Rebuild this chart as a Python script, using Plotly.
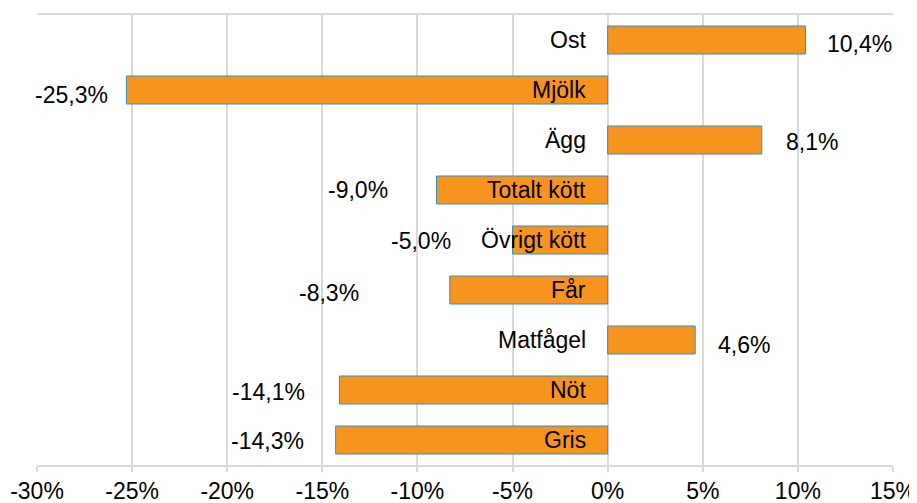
import plotly.graph_objects as go

categories = ["Ost", "Mjölk", "Ägg", "Totalt kött", "Övrigt kött", "Får", "Matfågel", "Nöt", "Gris"]
values = [10.4, -25.3, 8.1, -9.0, -5.0, -8.3, 4.6, -14.1, -14.3]
value_labels = ["10,4%", "-25,3%", "8,1%", "-9,0%", "-5,0%", "-8,3%", "4,6%", "-14,1%", "-14,3%"]
tick_vals = [-30, -25, -20, -15, -10, -5, 0, 5, 10, 15]
tick_text = ["-30%", "-25%", "-20%", "-15%", "-10%", "-5%", "0%", "5%", "10%", "15%"]

# label offsets (pixels) from bar end, as placed in the original
label_xshift = [19, -16, 22, -46, -60, -89, 21, -32, -30]
label_yshift = [-4, -5, -2, 0, -1, -3, -5, -2, -1]

FONT = "Liberation Sans, Arial, sans-serif"
GRID = "#D9D9D9"
FS = 23

fig = go.Figure(go.Bar(
    x=values, y=categories, orientation="h",
    marker=dict(color="#F7941E", line=dict(color="#2F8FC8", width=1)),
    width=0.56, hoverinfo="skip",
))

annotations = []
for c, v, t, xs, ys in zip(categories, values, value_labels, label_xshift, label_yshift):
    annotations.append(dict(x=0, y=c, text=c, showarrow=False, xanchor="right",
                            xshift=-20, font=dict(family=FONT, size=FS, color="#000")))
    annotations.append(dict(x=v, y=c, text=t, showarrow=False,
                            xanchor="left" if v > 0 else "right",
                            xshift=xs, yshift=ys,
                            font=dict(family=FONT, size=FS, color="#000")))

# page body has an 8px margin, so the figure is sized/offset to compensate
fig.update_layout(
    width=909, height=495,
    margin=dict(l=29, r=24, t=7, b=38),
    paper_bgcolor="white", plot_bgcolor="white",
    showlegend=False,
    annotations=annotations,
    xaxis=dict(range=[-30, 15], tickvals=tick_vals, ticktext=tick_text,
               showgrid=True, gridcolor=GRID, gridwidth=1.5, automargin=False,
               zeroline=False, showline=True, linecolor=GRID, linewidth=1.5, mirror=True,
               ticks="outside", ticklen=5, tickcolor=GRID, tickwidth=1.5,
               tickfont=dict(family=FONT, size=FS, color="#000")),
    yaxis=dict(categoryorder="array", categoryarray=categories, autorange="reversed",
               showticklabels=False, showgrid=False, zeroline=False, showline=False,
               fixedrange=True, automargin=False),
)

fig.write_html("out.html")
